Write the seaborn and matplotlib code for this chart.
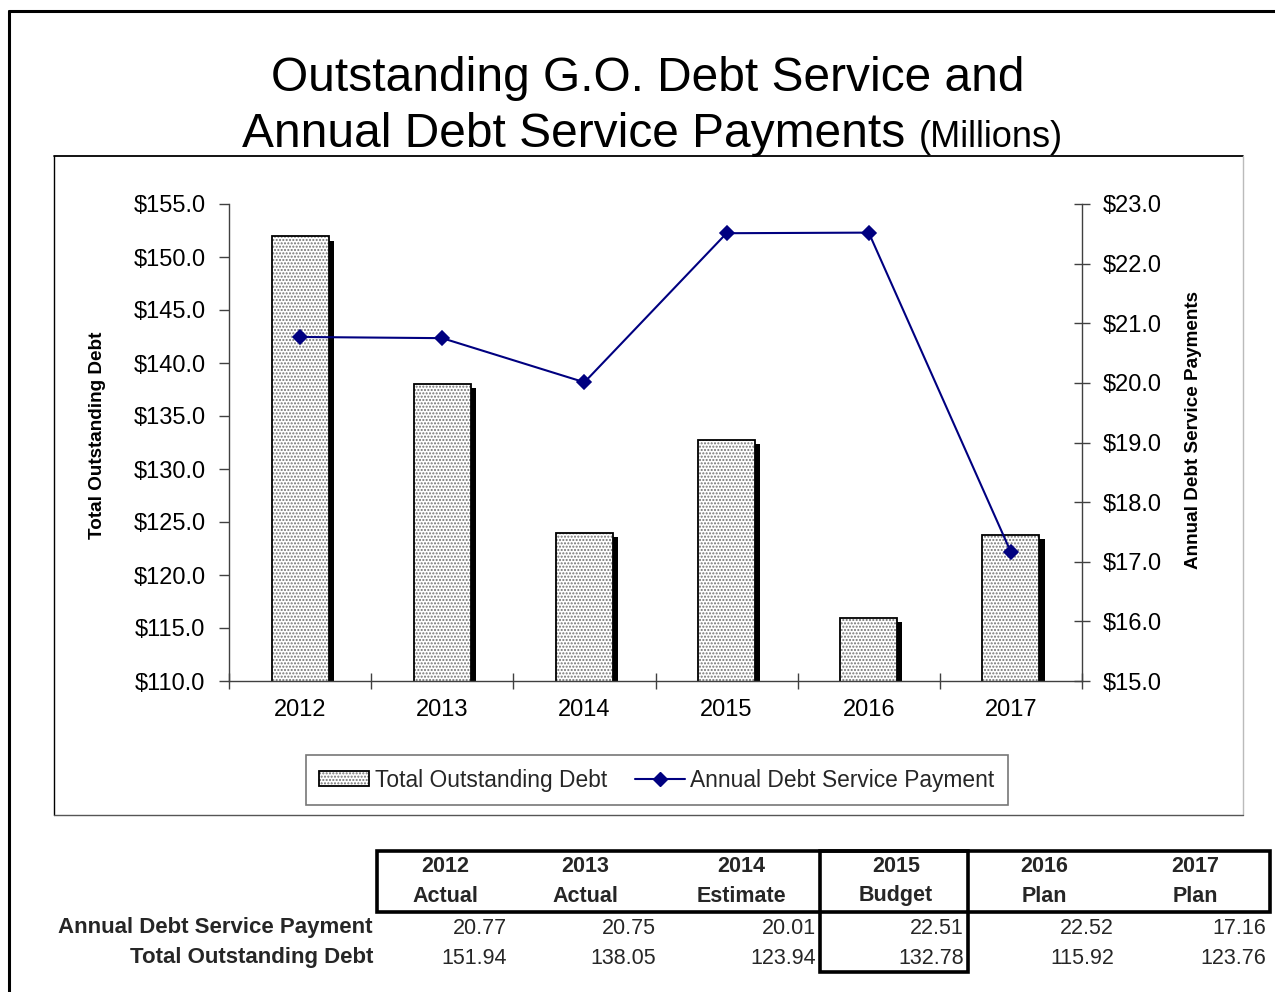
import matplotlib
matplotlib.use("Agg")
import numpy as np
import pandas as pd
import seaborn as sns
import matplotlib.pyplot as plt
from matplotlib import patheffects as pe
from matplotlib.lines import Line2D
from matplotlib.patches import Rectangle

# ---------------- data ----------------
years = ["2012", "2013", "2014", "2015", "2016", "2017"]
stages = ["Actual", "Actual", "Estimate", "Budget", "Plan", "Plan"]
total_debt = [151.94, 138.05, 123.94, 132.78, 115.92, 123.76]
annual_payment = [20.77, 20.75, 20.01, 22.51, 22.52, 17.16]
left_ticks = [110, 115, 120, 125, 130, 135, 140, 145, 150, 155]
right_ticks = [15, 16, 17, 18, 19, 20, 21, 22, 23]
row_labels = ["Annual Debt Service Payment", "Total Outstanding Debt"]

sns.set_theme(style="ticks")
plt.rcParams["font.family"] = ["Liberation Sans", "DejaVu Sans"]
plt.rcParams["hatch.linewidth"] = 1.0

W, H = 1275, 992
fig = plt.figure(figsize=(W / 100, H / 100), dpi=100)
fig.patch.set_facecolor("white")


def fx(x):
    return x / W


def fy(y):
    return 1 - y / H


class SolidShadow(pe.AbstractPathEffect):
    """Solid black drop shadow without hatch."""

    def draw_path(self, renderer, gc, tpath, affine, rgbFace):
        gc0 = renderer.new_gc()
        gc0.copy_properties(gc)
        gc0.set_hatch(None)
        gc0.set_linewidth(0)
        gc0.set_foreground("black")
        renderer.draw_path(gc0, tpath, affine + self._offset_transform(renderer),
                           (0, 0, 0, 1))
        gc0.restore()


HATCH_GRAY = (0.45, 0.45, 0.45, 1)

df = pd.DataFrame({"Year": years, "Debt": total_debt, "Payment": annual_payment})

ax = fig.add_axes([fx(229), fy(681), (1082 - 229) / W, (681 - 204) / H])
ax.set_facecolor("none")
sns.barplot(data=df, x="Year", y="Debt", ax=ax, color="white", saturation=1,
            width=0.4, edgecolor="black", linewidth=1.3, zorder=2)
for p in ax.patches:
    p.set_hatch(".....")
    try:
        p.set_hatchcolor(HATCH_GRAY)
    except AttributeError:
        p._hatch_color = HATCH_GRAY
    p.set_path_effects([SolidShadow(offset=(3.8, -3.0)), pe.Normal()])

ax.set_ylim(110, 155)
ax.set_yticks(left_ticks)
ax.set_yticklabels([f"${v:.1f}" for v in left_ticks])
ax.set_xlim(-0.5, 5.5)
ax.set_xticks(range(len(years)))
ax.set_xticklabels(years)
ax.set_xticks(np.arange(-0.5, len(years), 1.0), minor=True)
ax.set_xlabel("")
ax.set_ylabel("Total Outstanding Debt", fontsize=13.6, fontweight="bold", color="black")
ax.yaxis.set_label_coords(-0.144, 0.516)
ax.tick_params(axis="y", direction="out", length=7, width=1, color="#404040",
               labelsize=17, pad=10, left=True, labelcolor="black")
ax.tick_params(axis="x", which="major", length=0, labelsize=17, pad=13, labelcolor="black")
ax.tick_params(axis="x", which="minor", direction="inout", length=11, width=1,
               color="#404040", bottom=True)
for s in ["top", "right"]:
    ax.spines[s].set_visible(False)
for s in ["left", "bottom"]:
    ax.spines[s].set_color("#404040")
    ax.spines[s].set_linewidth(1)

ax2 = ax.twinx()
sns.pointplot(data=df, x="Year", y="Payment", ax=ax2, color="#000080",
              errorbar=None, marker="D", markersize=7, linewidth=1.5)
ax2.set_ylim(15, 23)
ax2.set_yticks(right_ticks)
ax2.set_yticklabels([f"${v:.1f}" for v in right_ticks])
ax2.set_xlim(-0.5, 5.5)
ax2.set_ylabel("Annual Debt Service Payments", fontsize=13.6, fontweight="bold",
               rotation=90, color="black")
ax2.yaxis.set_label_coords(1.121, 0.526)
ax2.tick_params(axis="y", direction="inout", length=12, width=1, color="#404040",
                labelsize=17, pad=9, right=True, labelcolor="black")
for s in ["top", "left", "bottom"]:
    ax2.spines[s].set_visible(False)
ax2.spines["right"].set_color("#404040")
ax2.spines["right"].set_linewidth(1)
ax2.set_xlabel("")

# legend (proxy handles)
bar_handle = Rectangle((0, 0), 1, 1, facecolor="white", edgecolor="black",
                       hatch=".....", linewidth=1.3)
try:
    bar_handle.set_hatchcolor(HATCH_GRAY)
except AttributeError:
    bar_handle._hatch_color = HATCH_GRAY
line_handle = Line2D([], [], color="#000080", marker="D", markersize=7, linewidth=1.5)
leg = fig.legend([bar_handle, line_handle], ["Total Outstanding Debt", "Annual Debt Service Payment"],
                 loc="center", bbox_to_anchor=(fx(657), fy(780)), ncol=2, frameon=True,
                 fancybox=False, edgecolor="#555555", fontsize=16.4, handlelength=2.2,
                 handleheight=0.65, columnspacing=1.2, handletextpad=0.25, borderpad=0.6)
leg.get_frame().set_linewidth(1.2)

# title
fig.text(fx(648), fy(91), "Outstanding G.O. Debt Service and", ha="center", va="baseline",
         fontsize=34.5, color="black")
fig.text(fx(905), fy(147), "Annual Debt Service Payments", ha="right", va="baseline",
         fontsize=34.5, color="black")
fig.text(fx(919), fy(147), "(Millions)", ha="left", va="baseline", fontsize=26, color="black")

# chart area frame
fig.add_artist(Line2D([fx(54), fx(1243)], [fy(156), fy(156)], color="black", lw=1.3))
fig.add_artist(Line2D([fx(54), fx(54)], [fy(156), fy(815)], color="black", lw=1.0))
fig.add_artist(Line2D([fx(1243), fx(1243)], [fy(156), fy(815)], color="#bbbbbb", lw=1.0))
fig.add_artist(Line2D([fx(54), fx(1243)], [fy(815), fy(815)], color="#555555", lw=1.0))

# outer border
fig.add_artist(Line2D([fx(9), fx(9)], [fy(11), 0], color="black", lw=2.2))
fig.add_artist(Line2D([fx(9), 1], [fy(11), fy(11)], color="black", lw=2.2))

# table
head_cx = [445, 585, 741, 896, 1044, 1195]
val_rx = [507, 656, 816, 964, 1114, 1266]
for i in range(len(years)):
    fig.text(fx(head_cx[i]), fy(866), years[i], ha="center", va="center",
             fontsize=15.5, fontweight="bold")
    fig.text(fx(head_cx[i]), fy(896), stages[i], ha="center", va="center",
             fontsize=15.5, fontweight="bold")
    fig.text(fx(val_rx[i]), fy(928), f"{annual_payment[i]:.2f}", ha="right", va="center",
             fontsize=15.5)
    fig.text(fx(val_rx[i]), fy(958), f"{total_debt[i]:.2f}", ha="right", va="center",
             fontsize=15.5)
fig.text(fx(373), fy(928), row_labels[0], ha="right", va="center", fontsize=16, fontweight="bold")
fig.text(fx(373), fy(958), row_labels[1], ha="right", va="center", fontsize=16, fontweight="bold")

fig.add_artist(Rectangle((fx(377), fy(912)), (1270 - 377) / W, (912 - 851) / H,
                         fill=False, edgecolor="black", lw=2.6, transform=fig.transFigure))
fig.add_artist(Rectangle((fx(820), fy(972)), (968 - 820) / W, (972 - 851) / H,
                         fill=False, edgecolor="black", lw=2.6, transform=fig.transFigure))

fig.savefig("out.png", dpi=100)
